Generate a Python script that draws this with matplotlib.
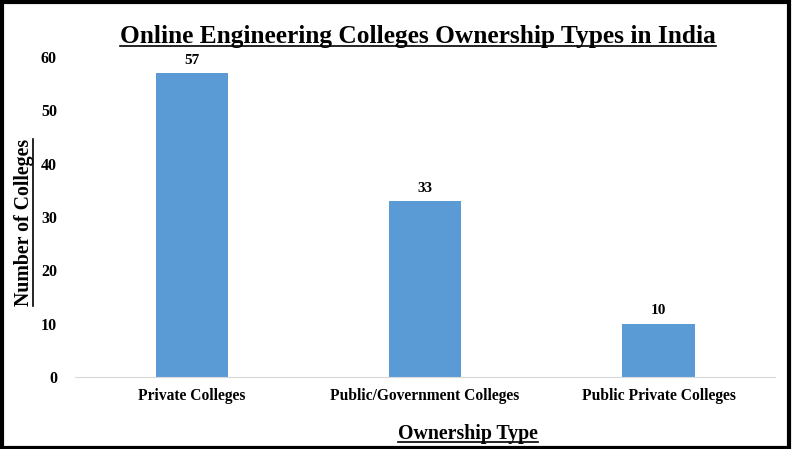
import matplotlib.pyplot as plt
from matplotlib.lines import Line2D
from matplotlib.patches import Rectangle

categories = ['Private Colleges', 'Public/Government Colleges', 'Public Private Colleges']
counts = [57, 33, 10]
yticks = [0, 10, 20, 30, 40, 50, 60]

plt.rcParams['font.family'] = 'Liberation Serif'
plt.rcParams['font.weight'] = 'bold'

fig = plt.figure(figsize=(7.92, 4.49), dpi=100)
ax = fig.add_axes([0.0947, 0.1604, 0.884, 0.7127])

x = range(len(categories))
bars = ax.bar(x, counts, width=0.31, color='#5B9BD5')
for b, v in zip(bars, counts):
    ax.text(b.get_x() + b.get_width() / 2, v + 1.2, str(v), ha='center', va='bottom',
            fontsize=11, fontweight='bold')

ax.set_xlim(-0.5, 2.5)
ax.set_ylim(0, 60)
ax.set_yticks(yticks)
ax.set_xticks(list(x))
ax.set_xticklabels(categories, fontsize=11.2, fontweight='bold')
ax.tick_params(axis='y', length=0, pad=13, labelsize=11.5)
ax.tick_params(axis='x', length=0, pad=8)
for s in ['top', 'right', 'left']:
    ax.spines[s].set_visible(False)
ax.spines['bottom'].set_color('#d9d9d9')

# texts with underline
title = fig.text(0.528, 0.918, 'Online Engineering Colleges Ownership Types in India',
                 ha='center', va='center', fontsize=18.3, fontweight='bold')
xlab = fig.text(0.591, 0.033, 'Ownership Type', ha='center', va='center',
                fontsize=14.3, fontweight='bold')
ylab = fig.text(0.030, 0.505, 'Number of Colleges', ha='center', va='center',
                rotation=90, fontsize=14.3, fontweight='bold')

fig.canvas.draw()
r = fig.canvas.get_renderer()
inv = fig.transFigure.inverted()
for t in [title, xlab]:
    bb = t.get_window_extent(r)
    (x0, y0), (x1, y1) = inv.transform([(bb.x0, bb.y0 + 2), (bb.x1, bb.y0 + 2)])
    fig.add_artist(Line2D([x0, x1], [y0, y1], color='black', lw=1.2, transform=fig.transFigure))
bb = ylab.get_window_extent(r)
(x0, y0), (x1, y1) = inv.transform([(bb.x1 - 1, bb.y0), (bb.x1 - 1, bb.y1)])
fig.add_artist(Line2D([x0, x1], [y0, y1], color='black', lw=1.2, transform=fig.transFigure))

fig.add_artist(Rectangle((0.002, 0.003), 0.994, 0.993, fill=False, edgecolor='black',
                         lw=3, transform=fig.transFigure))

fig.savefig('out.png', dpi=100)
